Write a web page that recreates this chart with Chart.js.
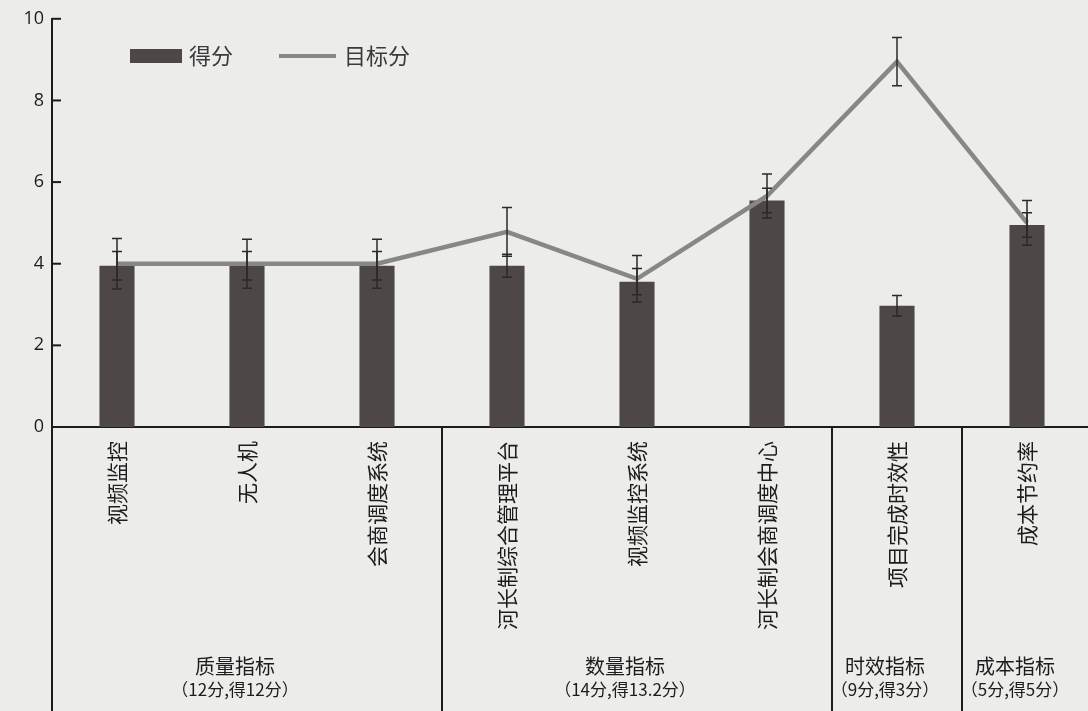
<!DOCTYPE html>
<html>
<head>
<meta charset="utf-8">
<script src="https://cdn.jsdelivr.net/npm/chart.js@4"></script>
<style>
  html, body { margin: 0; padding: 0; background: #ececea; overflow: hidden; }
  #wrap { width: 1088px; height: 711px; overflow: hidden; }
</style>
</head>
<body>
<div id="wrap"><canvas id="chart" width="1092" height="711"></canvas></div>
<script>
// 数据
const categories = ['视频监控', '无人机', '会商调度系统', '河长制综合管理平台', '视频监控系统', '河长制会商调度中心', '项目完成时效性', '成本节约率'];
const scoreValues = [3.95, 3.95, 3.95, 3.95, 3.56, 5.55, 2.97, 4.95];
const scoreErrors = [0.35, 0.35, 0.35, 0.28, 0.32, 0.30, 0.25, 0.30];
const targetValues = [4.0, 4.0, 4.0, 4.78, 3.63, 5.66, 8.95, 5.0];
const targetErrors = [0.62, 0.60, 0.60, 0.60, 0.57, 0.54, 0.59, 0.55];
const yTicks = [0, 2, 4, 6, 8, 10];

// 分组
const groupNames = ['质量指标', '数量指标', '时效指标', '成本指标'];
const groupNotes = ['（12分,得12分）', '（14分,得13.2分）', '（9分,得3分）', '（5分,得5分）'];
const groupSizes = [3, 3, 1, 1];

const CJK = '"Noto Sans CJK SC", "Noto Sans", sans-serif';
const INK = '#1c1c1c';

// 背景
const paperPlugin = {
    id: 'paper',
    beforeDraw(chart) {
        const ctx = chart.ctx;
        ctx.save();
        ctx.fillStyle = '#ececea';
        ctx.fillRect(0, 0, chart.width, chart.height);
        ctx.restore();
    }
};

// 误差线
const errorBarPlugin = {
    id: 'errorBars',
    afterDatasetsDraw(chart) {
        const ctx = chart.ctx;
        const x = chart.scales.x;
        const y = chart.scales.y;
        ctx.save();
        ctx.strokeStyle = '#2a2a2a';
        ctx.lineWidth = 1.5;
        const draw = (values, errors) => {
            values.forEach((v, i) => {
                const px = x.getPixelForValue(i);
                const top = y.getPixelForValue(v + errors[i]);
                const bot = y.getPixelForValue(v - errors[i]);
                ctx.beginPath();
                ctx.moveTo(px, top);
                ctx.lineTo(px, bot);
                ctx.moveTo(px - 5, top);
                ctx.lineTo(px + 5, top);
                ctx.moveTo(px - 5, bot);
                ctx.lineTo(px + 5, bot);
                ctx.stroke();
            });
        };
        draw(scoreValues, scoreErrors);
        draw(targetValues, targetErrors);
        ctx.restore();
    }
};

// 坐标框、刻度、分组标签、图例
const framePlugin = {
    id: 'frame',
    afterDraw(chart) {
        const ctx = chart.ctx;
        const x = chart.scales.x;
        const y = chart.scales.y;
        const area = chart.chartArea;
        ctx.save();
        ctx.strokeStyle = INK;

        // 向内刻度
        ctx.lineWidth = 2;
        yTicks.forEach(t => {
            const py = y.getPixelForValue(t);
            ctx.beginPath();
            ctx.moveTo(area.left, py);
            ctx.lineTo(area.left + 9, py);
            ctx.stroke();
        });

        // 下方表格竖线
        ctx.beginPath();
        ctx.moveTo(area.left, area.bottom);
        ctx.lineTo(area.left, chart.height);
        ctx.stroke();

        let start = 0;
        groupSizes.forEach((n, g) => {
            const end = start + n - 1;
            if (g < groupSizes.length - 1) {
                const bx = (x.getPixelForValue(end) + x.getPixelForValue(end + 1)) / 2;
                ctx.beginPath();
                ctx.moveTo(bx, area.bottom);
                ctx.lineTo(bx, chart.height);
                ctx.stroke();
            }
            const cx = (x.getPixelForValue(start) + x.getPixelForValue(end)) / 2 - 12;
            ctx.fillStyle = INK;
            ctx.textAlign = 'center';
            ctx.textBaseline = 'middle';
            ctx.font = '20px ' + CJK;
            ctx.fillText(groupNames[g], cx, 666);
            ctx.font = '17px ' + CJK;
            ctx.fillText(groupNotes[g], cx, 690);
            start += n;
        });

        // 图例
        const sets = chart.data.datasets;
        ctx.fillStyle = sets[0].backgroundColor;
        ctx.fillRect(130, 49, 52, 14);
        ctx.strokeStyle = sets[1].borderColor;
        ctx.lineWidth = 4;
        ctx.beginPath();
        ctx.moveTo(279, 56);
        ctx.lineTo(336, 56);
        ctx.stroke();
        ctx.fillStyle = '#3a3a3a';
        ctx.textAlign = 'left';
        ctx.textBaseline = 'middle';
        ctx.font = '22px ' + CJK;
        ctx.fillText(sets[0].label, 189, 56);
        ctx.fillText(sets[1].label, 344, 56);
        ctx.restore();
    }
};

const chart = new Chart(document.getElementById('chart'), {
    data: {
        labels: categories,
        datasets: [
            {
                type: 'bar',
                label: '得分',
                data: scoreValues,
                backgroundColor: '#4d4845',
                barPercentage: 0.27,
                categoryPercentage: 1,
                order: 1
            },
            {
                type: 'line',
                label: '目标分',
                data: targetValues,
                borderColor: '#878785',
                borderWidth: 4.5,
                pointRadius: 0,
                tension: 0,
                order: 0
            }
        ]
    },
    options: {
        responsive: false,
        animation: false,
        devicePixelRatio: 1,
        layout: { padding: { top: 17, right: 0, left: 0, bottom: 0 } },
        plugins: {
            legend: { display: false },
            tooltip: { enabled: false }
        },
        scales: {
            x: {
                grid: { display: false, drawTicks: false },
                border: { display: true, color: INK, width: 2 },
                ticks: {
                    autoSkip: false,
                    minRotation: 90,
                    maxRotation: 90,
                    padding: 14,
                    color: INK,
                    font: { size: 21, family: CJK }
                },
                afterFit(scale) { scale.height = 284; }
            },
            y: {
                min: 0,
                max: 10,
                afterBuildTicks(scale) { scale.ticks = yTicks.map(v => ({ value: v })); },
                grid: { display: false, drawTicks: false },
                border: { display: true, color: INK, width: 2 },
                ticks: {
                    padding: 8,
                    color: INK,
                    font: { size: 18, family: '"Open Sans", sans-serif' }
                },
                afterFit(scale) { scale.width = 52; }
            }
        }
    },
    plugins: [paperPlugin, errorBarPlugin, framePlugin]
});
</script>
</body>
</html>
